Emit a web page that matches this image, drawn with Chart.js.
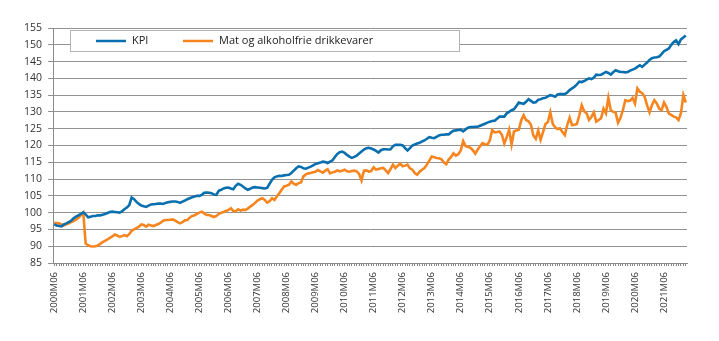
<!DOCTYPE html>
<html>
<head>
<meta charset="utf-8">
<script src="https://cdn.jsdelivr.net/npm/chart.js@4"></script>
<style>
  html, body { margin: 0; padding: 0; background: #fff; }
  #wrap { width: 719px; height: 341px; position: relative; }
</style>
</head>
<body>
<div id="wrap"><canvas id="kpi-chart"></canvas></div>
<script>
// monthly index, June 2000 to March 2022 (one row per year, June-May)
const kpi = [
  96.5, 96.2, 96.0, 95.9, 96.5, 96.8, 97.2, 97.6, 98.3, 98.8, 99.2, 99.6,
  100.1, 99.5, 98.6, 98.8, 99.0, 99.0, 99.2, 99.2, 99.4, 99.6, 99.9, 100.2,
  100.3, 100.2, 100.1, 100.0, 100.4, 101.0, 101.5, 102.2, 104.5, 104.0, 103.2, 102.6,
  102.1, 101.9, 101.7, 102.1, 102.4, 102.5, 102.6, 102.7, 102.7, 102.6, 102.9, 103.1,
  103.2, 103.3, 103.3, 103.2, 102.9, 103.3, 103.6, 104.0, 104.3, 104.6, 104.8, 105.0,
  105.0, 105.3, 105.9, 106.0, 105.9, 105.8, 105.4, 105.3, 106.5, 106.8, 107.2, 107.4,
  107.5, 107.2, 107.0, 108.0, 108.6, 108.3, 107.8, 107.2, 106.8, 107.1, 107.5, 107.6,
  107.5, 107.4, 107.3, 107.2, 107.4, 108.6, 109.8, 110.5, 110.8, 111.0, 110.9, 111.1,
  111.2, 111.3, 111.8, 112.5, 113.2, 113.8, 113.6, 113.2, 113.1, 113.4, 113.7, 114.1,
  114.5, 114.7, 114.9, 115.2, 115.1, 114.8, 115.2, 115.6, 116.6, 117.5, 118.0, 118.2,
  117.8, 117.2, 116.7, 116.3, 116.6, 117.0, 117.6, 118.2, 118.8, 119.2, 119.3, 119.1,
  118.8, 118.4, 117.9, 118.6, 118.9, 118.9, 118.8, 118.9, 119.8, 120.2, 120.2, 120.2,
  120.0, 119.2, 118.5, 119.2, 120.0, 120.3, 120.6, 120.8, 121.2, 121.5, 122.0, 122.5,
  122.3, 122.2, 122.6, 123.0, 123.2, 123.2, 123.3, 123.3, 123.9, 124.4, 124.5, 124.6,
  124.7, 124.2, 124.8, 125.3, 125.5, 125.5, 125.6, 125.6, 125.9, 126.2, 126.5, 126.8,
  127.1, 127.3, 127.4, 128.0, 128.6, 128.6, 128.6, 129.6, 130.0, 130.5, 130.8, 131.8,
  132.8, 132.6, 132.4, 133.0, 133.8, 133.3, 132.8, 132.9, 133.6, 133.8, 134.1, 134.2,
  134.6, 135.0, 134.8, 134.5, 135.2, 135.3, 135.3, 135.3, 135.8, 136.5, 137.0, 137.5,
  138.2, 139.0, 138.9, 139.2, 139.6, 140.0, 139.8, 140.2, 141.1, 141.0, 141.1, 141.5,
  141.9, 141.6, 141.1, 141.8, 142.4, 142.1, 141.9, 141.9, 141.8, 141.9, 142.3, 142.6,
  142.9, 143.4, 143.9, 143.4, 144.1, 144.7, 145.5, 146.0, 146.2, 146.3, 146.5, 147.2,
  148.1, 148.5, 148.9, 150.0, 150.8, 151.3, 150.2, 151.6, 152.2, 152.8
];

const food = [
  97.0, 96.9, 96.8, 96.5, 96.2, 96.5, 96.8, 97.2, 97.5, 97.9, 98.5, 99.2,
  100.0, 90.8, 90.3, 90.0, 89.9, 90.0, 90.2, 90.7, 91.2, 91.6, 92.0, 92.5,
  92.9, 93.5, 93.2, 92.8, 93.0, 93.3, 93.0, 93.6, 94.6, 95.0, 95.4, 95.8,
  96.5, 96.3, 95.8, 96.4, 96.2, 96.0, 96.3, 96.6, 97.0, 97.6, 97.8, 97.8,
  97.9, 98.0, 97.6, 97.2, 96.8, 97.2, 97.7, 97.8, 98.5, 99.0, 99.2, 99.6,
  100.0, 100.3, 99.8, 99.3, 99.3, 99.0, 98.7, 99.0, 99.6, 100.0, 100.2, 100.5,
  100.8, 101.3, 100.5, 100.4, 101.0, 100.6, 100.9, 100.8, 101.2, 101.8, 102.3, 102.9,
  103.6, 104.0, 104.3, 103.8, 103.0, 103.4, 104.3, 103.8, 104.8, 105.8, 106.8, 107.8,
  108.0, 108.3, 109.3, 108.6, 108.3, 108.8, 109.0, 110.8, 111.4, 111.7, 111.8, 112.0,
  112.2, 112.7, 112.3, 111.9, 112.5, 112.9, 111.7, 112.0, 112.2, 112.6, 112.3, 112.5,
  112.8, 112.3, 112.2, 112.4, 112.5, 112.3, 111.5, 109.6, 112.5, 112.6, 112.2, 112.4,
  113.5, 112.8, 113.0, 113.2, 113.3, 112.6, 111.8, 113.0, 114.3, 113.3, 114.0, 114.6,
  113.8, 114.0, 114.3, 113.2, 112.8, 111.8, 111.3, 112.2, 112.8, 113.3, 114.3, 115.5,
  116.7, 116.5, 116.3, 116.2, 115.9, 115.0, 114.4, 115.8, 116.6, 117.7, 117.0, 117.4,
  118.5, 121.3, 119.8, 119.6, 119.3, 118.6, 117.6, 118.8, 119.8, 120.7, 120.4, 120.2,
  121.5, 124.6, 123.9, 124.0, 124.2, 123.2, 120.6, 122.5, 124.7, 120.3, 124.2, 124.5,
  124.7, 127.5, 129.0, 127.6, 127.2, 126.2, 123.0, 122.0, 124.5, 121.7, 124.0, 126.4,
  127.0, 129.9, 126.5, 125.4, 124.9, 125.1, 124.0, 123.1, 126.1, 128.3, 126.1, 126.2,
  126.4, 129.0, 132.0, 130.2, 129.6, 127.6, 128.5, 129.9, 127.1, 127.6, 128.1, 131.0,
  129.6, 134.2, 130.5, 130.0, 129.8, 126.8, 128.2, 130.5, 133.5, 133.2, 133.4, 134.2,
  132.5, 137.0, 136.0, 135.6, 134.5, 132.0, 129.9, 132.0, 133.5, 132.5, 131.0, 130.5,
  132.8, 131.5, 129.5, 129.1, 128.6, 128.4, 127.6, 129.6, 135.0, 132.8
];

const seriesNames = ['KPI', 'Mat og alkoholfrie drikkevarer'];
const seriesColors = ['#0a6fae', '#f7851f'];

const startYear = 2000;
const startMonth = 6;
const months = [];
for (let i = 0; i < kpi.length; i++) {
  const m = (startMonth - 1 + i) % 12 + 1;
  const y = startYear + Math.floor((startMonth - 1 + i) / 12);
  months.push(y + 'M' + (m < 10 ? '0' + m : m));
}

const yTicks = { min: 85, max: 155, step: 5 };

// legend box drawn inside the plot, like the original
const boxLegend = {
  id: 'boxLegend',
  afterDraw(chart) {
    const ctx = chart.ctx;
    ctx.save();
    ctx.fillStyle = '#fff';
    ctx.fillRect(70, 30, 389, 22);
    ctx.strokeStyle = '#b4b4b4';
    ctx.lineWidth = 1;
    ctx.strokeRect(70.5, 30.5, 389, 21);
    const items = [[96, 132], [183, 219]];
    ctx.font = '11px "Open Sans"';
    ctx.textBaseline = 'middle';
    for (let i = 0; i < items.length; i++) {
      ctx.strokeStyle = seriesColors[i];
      ctx.lineWidth = 2.5;
      ctx.beginPath();
      ctx.moveTo(items[i][0], 41);
      ctx.lineTo(items[i][0] + 30, 41);
      ctx.stroke();
      ctx.fillStyle = '#222';
      ctx.fillText(seriesNames[i], items[i][1], 41);
    }
    ctx.restore();
  }
};

const ctx = document.getElementById('kpi-chart');
const kpiChart = new Chart(ctx, {
  type: 'line',
  data: {
    labels: months,
    datasets: [{
      label: seriesNames[0],
      data: kpi,
      borderColor: seriesColors[0],
      borderWidth: 2.6,
      pointRadius: 0,
      tension: 0
    }, {
      label: seriesNames[1],
      data: food,
      borderColor: seriesColors[1],
      borderWidth: 2.6,
      pointRadius: 0,
      tension: 0
    }]
  },
  options: {
    responsive: true,
    maintainAspectRatio: false,
    animation: false,
    layout: { padding: { top: 28, right: 32, left: 0, bottom: 0 } },
    plugins: {
      legend: { display: false },
      tooltip: { enabled: false }
    },
    scales: {
      x: {
        offset: true,
        grid: {
          display: true,
          drawOnChartArea: false,
          offset: false,
          tickLength: 3,
          color: '#8a8a8a'
        },
        border: { color: '#8a8a8a' },
        ticks: {
          autoSkip: false,
          minRotation: 90,
          maxRotation: 90,
          padding: 6,
          color: '#333',
          font: { family: 'Open Sans', size: 9.5 },
          callback: function (val, index) {
            return index % 12 === 0 ? months[index] : '';
          }
        },
        afterFit: function (scale) { scale.height = 78; }
      },
      y: {
        min: yTicks.min,
        max: yTicks.max,
        grid: {
          color: '#929292',
          tickLength: 5
        },
        border: { color: '#8a8a8a' },
        ticks: {
          stepSize: yTicks.step,
          padding: 6,
          color: '#333',
          font: { family: 'Open Sans', size: 10.5 }
        },
        afterFit: function (scale) { scale.width = 53; }
      }
    }
  },
  plugins: [boxLegend]
});
</script>
</body>
</html>
